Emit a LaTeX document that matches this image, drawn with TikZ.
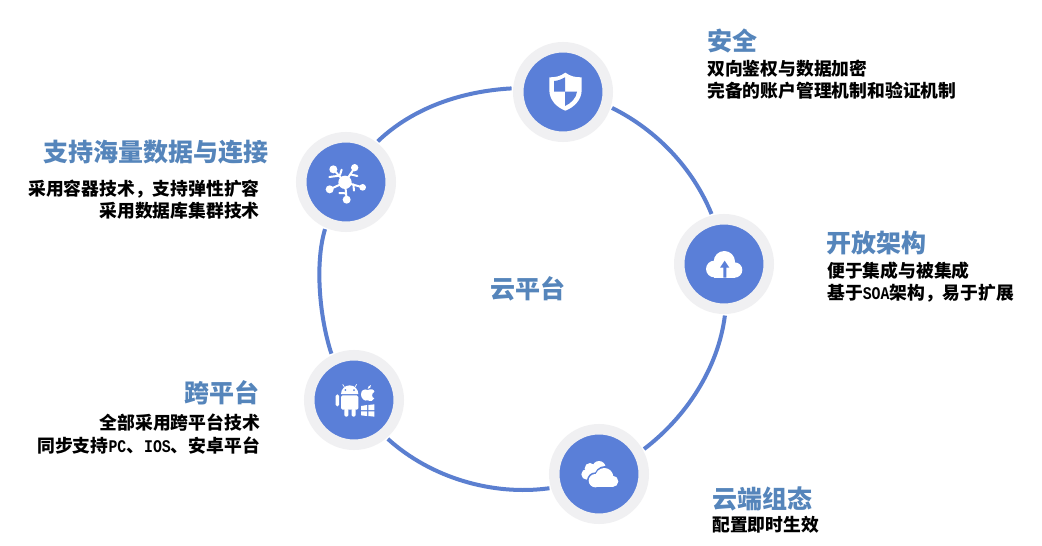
\documentclass[tikz,border=0pt]{standalone}
\usepackage{fontspec}
\setmainfont{Liberation Serif}
\newfontfamily\cjk{Noto Sans CJK SC}
\newfontfamily\halfw[FakeStretch=0.833]{Liberation Mono}
\newcommand{\lat}[1]{{\halfw\bfseries\fontsize{17.8}{22.6}\selectfont #1}}
\definecolor{ringblue}{HTML}{5B7FD0}
\definecolor{discblue}{HTML}{5A7FD8}
\definecolor{halo}{HTML}{F0F0F2}
\definecolor{titleblue}{HTML}{5585BB}
\tikzset{
  x=1pt,y=-1pt,
  hub/.style={circle,fill=discblue,draw=halo,line width=10.5pt,minimum size=89.5pt,inner sep=0pt,outer sep=6.8pt},
  ringline/.style={draw=ringblue,line width=4pt},
  title/.style={inner sep=0pt,text=titleblue,font=\cjk\bfseries\fontsize{25}{28}\selectfont},
  body/.style={inner sep=0pt,text=black,font=\cjk\bfseries\fontsize{17.8}{22.6}\selectfont},
  zoomgrid/.style={x=.33333pt,y=-.33333pt,shift={#1}},
  glyph/.style={fill=white,draw=none},
  twig/.style={draw=white,line width=2pt,line cap=round}
}
\begin{document}
\begin{tikzpicture}
\useasboundingbox (0,0) rectangle (1042,546);
\fill[white] (0,0) rectangle (1042,546);
\node[hub] (safe) at (563,92) {};
\node[hub] (open) at (724,264) {};
\node[hub] (cloud) at (599,474) {};
\node[hub] (cross) at (354,400) {};
\node[hub] (data) at (346,182) {};
\foreach \a/\p/\b/\q/\l in {safe/11.6/open/82.6/.87,open/82.6/cloud/157.4/.87,cloud/157.4/cross/236.9/.87,cross/236.9/data/301.5/.75,data/301.5/safe/371.6/.87}{
  \pgfmathsetmacro\sa{-\p-7.35}
  \pgfmathsetmacro\ea{180-\q+7.35}
  \pgfmathsetmacro\oa{-\p-14.7}
  \pgfmathsetmacro\ia{180-\q+14.7}
  \draw[ringline,looseness=\l] (\a.\sa) to[out=\oa,in=\ia] (\b.\ea);
}
% shield
\begin{scope}[zoomgrid={(500pt,-30pt)}]
\fill[glyph] (196,128) .. controls (212,140) and (228,142) .. (245,142) -- (245,180) .. controls (245,210) and (222,232) .. (196,242) .. controls (170,232) and (148,210) .. (148,180) -- (148,142) .. controls (165,142) and (180,140) .. (196,128) -- cycle;
\fill[discblue] (195,142) .. controls (185,148) and (175,152) .. (162,153) -- (162,185) -- (195,185) -- cycle;
\fill[discblue] (195,185) -- (231,185) .. controls (229,205) and (212,220) .. (195,228) -- cycle;
\end{scope}
% network
\begin{scope}[zoomgrid={(290pt,-125pt)}]
\fill[glyph] (165,172) circle (20);
\fill[glyph] (130,133) circle (12);
\fill[glyph] (194,128) circle (11);
\fill[glyph] (119,193) circle (12);
\fill[glyph] (218,187) circle (10);
\fill[glyph] (170,224) circle (12);
\draw[twig] (165,172) -- (130,133) (165,172) -- (194,128) (165,172) -- (119,193) (165,172) -- (218,187) (165,172) -- (170,224);
\draw[twig] (148,152) -- (118,156) (150,150) -- (155,134) (181,148) -- (202,153) (190,178) -- (192,197) (168,205) -- (148,204);
\end{scope}
% upload cloud
\begin{scope}[zoomgrid={(665pt,-205pt)}]
\fill[glyph] (148,192) circle (25);
\fill[glyph] (178,170) circle (32);
\fill[glyph] (209,195) circle (23);
\fill[glyph] (148,190) rectangle (209,218);
\fill[discblue] (175,218) -- (175,188) -- (165,188) -- (179,167) -- (193,188) -- (184,188) -- (184,218) -- cycle;
\end{scope}
% platforms
\begin{scope}[zoomgrid={(295pt,-345pt)}]
\fill[glyph] (138,147) arc (180:360:26) -- cycle;
\draw[white,line width=.7pt] (148,126) -- (143,118) (180,126) -- (185,118);
\fill[discblue] (151,135) circle (3) (177,135) circle (3);
\fill[glyph,rounded corners=1.5pt] (138,151) rectangle (190,194);
\fill[glyph,rounded corners=1.5pt] (122,148) rectangle (132,184);
\fill[glyph,rounded corners=1.5pt] (148,190) rectangle (160,215);
\fill[glyph,rounded corners=1.5pt] (170,190) rectangle (182,215);
\fill[glyph] (218,135) .. controls (228,130) and (238,134) .. (238,140) .. controls (228,146) and (230,158) .. (238,160) .. controls (234,168) and (228,170) .. (218,166) .. controls (208,170) and (198,160) .. (198,148) .. controls (198,134) and (210,131) .. (218,135) -- cycle;
\fill[glyph] (218,132) .. controls (218,126) and (222,121) .. (228,120) .. controls (229,127) and (224,131) .. (218,132) -- cycle;
\fill[glyph] (198,183) -- (216,180) -- (216,195) -- (198,195) -- cycle;
\fill[glyph] (220,180) -- (238,178) -- (238,195) -- (220,195) -- cycle;
\fill[glyph] (198,199) -- (216,199) -- (216,213) -- (198,211) -- cycle;
\fill[glyph] (220,199) -- (238,199) -- (238,215) -- (220,213) -- cycle;
\end{scope}
% double cloud
\begin{scope}[zoomgrid={(540pt,-420pt)}]
\fill[glyph] (140,163) circle (16);
\fill[glyph] (177,143) circle (20);
\fill[glyph] (150,145) circle (16);
\fill[glyph] (140,150) rectangle (190,178);
\fill[discblue] (166,182) circle (25) (195,170) circle (32) (218,185) circle (22);
\fill[discblue] (166,180) rectangle (218,207);
\fill[glyph] (166,182) circle (20);
\fill[glyph] (193,171) circle (27);
\fill[glyph] (218,184) circle (17);
\fill[glyph] (166,182) rectangle (218,201);
\end{scope}
% texts
\node[title,anchor=center] (hub) at (527.5,289) {云平台};
\node[title,anchor=west] (t1) at (707,41) {安全};
\node[body,anchor=west,align=left] (b1) at (707,79.5) {双向鉴权与数据加密\\完备的账户管理机制和验证机制};
\node[title,anchor=west] (t2) at (826,243) {开放架构};
\node[body,anchor=west,align=left] (b2) at (827,282) {便于集成与被集成\\基于\lat{SOA}架构，易于扩展};
\node[title,anchor=west] (t3) at (712,499) {云端组态};
\node[body,anchor=west,align=left] (b3) at (712,525) {配置即时生效};
\node[title,anchor=east] (t4) at (260,393) {跨平台};
\node[body,anchor=east,align=right] (b4) at (260,434) {全部采用跨平台技术\\同步支持\lat{PC}、\lat{IOS}、安卓平台};
\node[title,anchor=east] (t5) at (269,152) {支持海量数据与连接};
\node[body,anchor=east,align=right] (b5) at (260,199.5) {采用容器技术，支持弹性扩容\\采用数据库集群技术};
\end{tikzpicture}
\end{document}
